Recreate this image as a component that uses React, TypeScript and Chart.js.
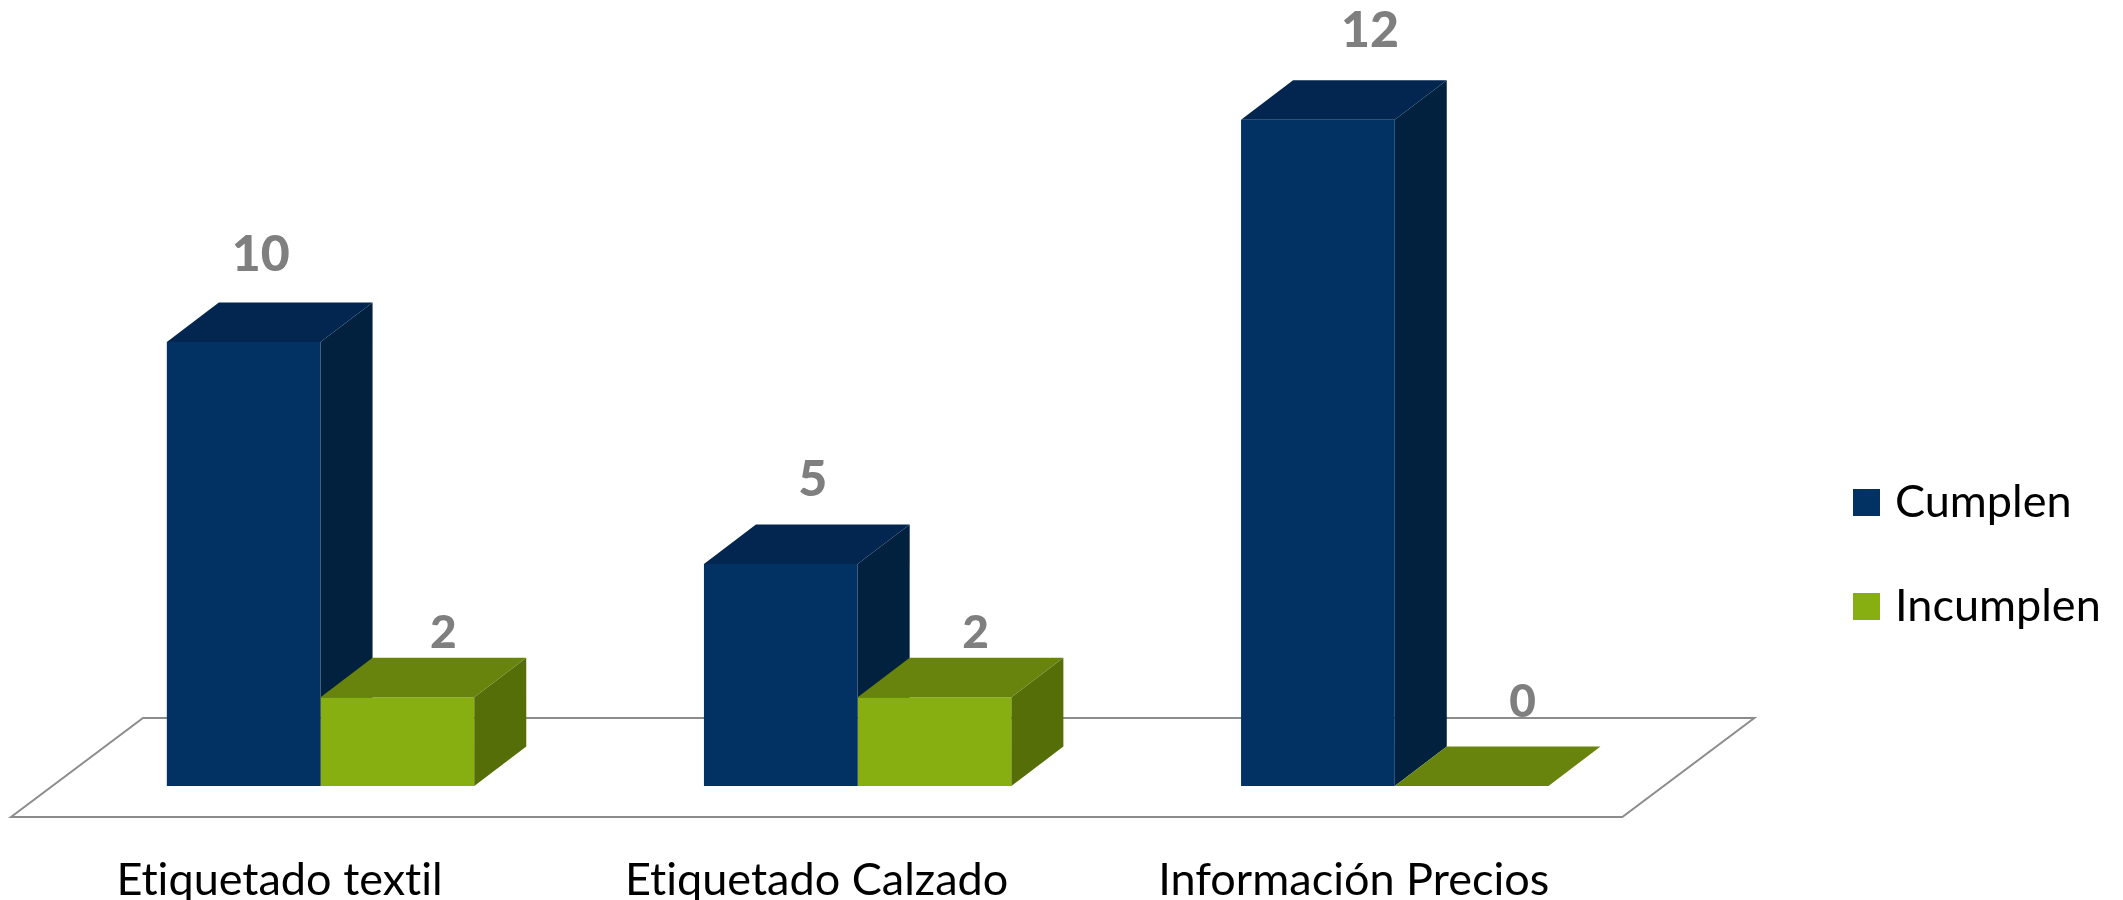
import React, { useEffect, useRef } from "react";
import { Chart, registerables } from "chart.js";

Chart.register(...registerables);

const categories = ["Etiquetado textil", "Etiquetado Calzado", "Información Precios"];
const seriesNames = ["Cumplen", "Incumplen"];
// Bar heights as drawn in the picture (the third blue bar is drawn 15 units tall, though labelled 12).
const cumplenValues = [10, 5, 15];
const incumplenValues = [2, 2, 0];
// Value labels as printed in the picture.
const cumplenLabels = ["10", "5", "12"];
const incumplenLabels = ["2", "2", "0"];

const FRONT = ["#023263", "#87AF11"];
const TOP = ["#02264F", "#69840C"];
const SIDE = ["#01213F", "#566E08"];
const DEPTH_X = 52;
const DEPTH_Y = 39.5;
const LABEL_SHIFT_X = [[17, 32, 52], [46, 41, 51]];
const LABEL_LIFT = [[31, 28, 33], [10, 10, 30]];
const LABEL_FONT = [50, 46];

function extrude(ctx: CanvasRenderingContext2D, el: any, i: number) {
  const left = el.x - el.width / 2;
  const right = el.x + el.width / 2;
  const top = el.y;
  const bottom = el.base;
  ctx.fillStyle = SIDE[i];
  ctx.beginPath();
  ctx.moveTo(right, top);
  ctx.lineTo(right + DEPTH_X, top - DEPTH_Y);
  ctx.lineTo(right + DEPTH_X, bottom - DEPTH_Y);
  ctx.lineTo(right, bottom);
  ctx.closePath();
  ctx.fill();
  ctx.fillStyle = TOP[i];
  ctx.beginPath();
  ctx.moveTo(left, top);
  ctx.lineTo(left + DEPTH_X, top - DEPTH_Y);
  ctx.lineTo(right + DEPTH_X, top - DEPTH_Y);
  ctx.lineTo(right, top);
  ctx.closePath();
  ctx.fill();
}

const box3d = {
  id: "box3d",
  afterLayout(chart: any) {
    const lg = chart.legend;
    const dx = 1853 + 7.5 - 59 - lg.left;
    lg.left += dx;
    lg.right += dx;
    lg.top = 421;
    lg.bottom = lg.top + 500;
  },
  beforeDraw(chart: any) {
    chart.ctx.letterSpacing = "0.01px";
  },
  beforeDatasetsDraw(chart: any) {
    const { ctx, scales } = chart;
    const base = scales.y.getPixelForValue(0);
    const fl = scales.x.left - 41;
    const fr = scales.x.right - 41;
    const fy = base + 31;
    const by = base - 68;
    ctx.save();
    ctx.strokeStyle = "#8C8C8C";
    ctx.lineWidth = 2;
    ctx.lineJoin = "miter";
    ctx.beginPath();
    ctx.moveTo(fl, fy);
    ctx.lineTo(fl + 132, by);
    ctx.lineTo(fr + 132, by);
    ctx.lineTo(fr, fy);
    ctx.closePath();
    ctx.stroke();
    chart.getDatasetMeta(0).data.forEach((el: any) => extrude(ctx, el, 0));
    ctx.restore();
  },
  afterDatasetsDraw(chart: any) {
    const { ctx } = chart;
    ctx.save();
    chart.getDatasetMeta(1).data.forEach((el: any) => extrude(ctx, el, 1));
    const texts = [cumplenLabels, incumplenLabels];
    ctx.textAlign = "center";
    ctx.textBaseline = "alphabetic";
    ctx.fillStyle = "#7F7F7F";
    texts.forEach((list, s) => {
      ctx.font = `900 ${LABEL_FONT[s]}px Lato`;
      chart.getDatasetMeta(s).data.forEach((el: any, k: number) => {
        ctx.fillText(list[k], el.x + LABEL_SHIFT_X[s][k], el.y - DEPTH_Y - LABEL_LIFT[s][k]);
      });
    });
    ctx.restore();
  },
};

export default function App() {
  const ref = useRef<HTMLCanvasElement>(null);
  useEffect(() => {
    document.body.style.margin = "0";
    const chart = new Chart(ref.current!, {
      type: "bar",
      data: {
        labels: categories,
        datasets: [
          { label: seriesNames[0], data: cumplenValues, backgroundColor: FRONT[0] },
          { label: seriesNames[1], data: incumplenValues, backgroundColor: FRONT[1] },
        ],
      },
      plugins: [box3d],
      options: {
        responsive: false,
        animation: false,
        layout: { padding: { left: 52, right: 150.5, top: 31, bottom: 0 } },
        datasets: { bar: { barPercentage: 1, categoryPercentage: 0.5724 } },
        plugins: {
          tooltip: { enabled: false },
          legend: {
            position: "right",
            align: "start",
            labels: {
              boxWidth: 12,
              boxHeight: 12,
              padding: 59,
              color: "#000000",
              font: { family: "Lato", size: 45 },
              generateLabels(chart: any) {
                return Chart.defaults.plugins.legend.labels.generateLabels(chart).map((item: any, i: number) => ({
                  ...item,
                  strokeStyle: FRONT[i],
                  lineWidth: 15,
                }));
              },
            },
          },
        },
        scales: {
          x: {
            afterFit(s: any) {
              s.height = 114;
            },
            grid: { display: false },
            border: { display: false },
            ticks: {
              color: "#000000",
              labelOffset: -41,
              padding: 59,
              maxRotation: 0,
              font: { family: "Lato", size: 45 },
            },
          },
          y: {
            min: 0,
            max: 17,
            display: false,
          },
        },
      } as any,
    });
    return () => chart.destroy();
  }, []);
  return <canvas ref={ref} width={2123} height={900} style={{ display: "block" }} />;
}
